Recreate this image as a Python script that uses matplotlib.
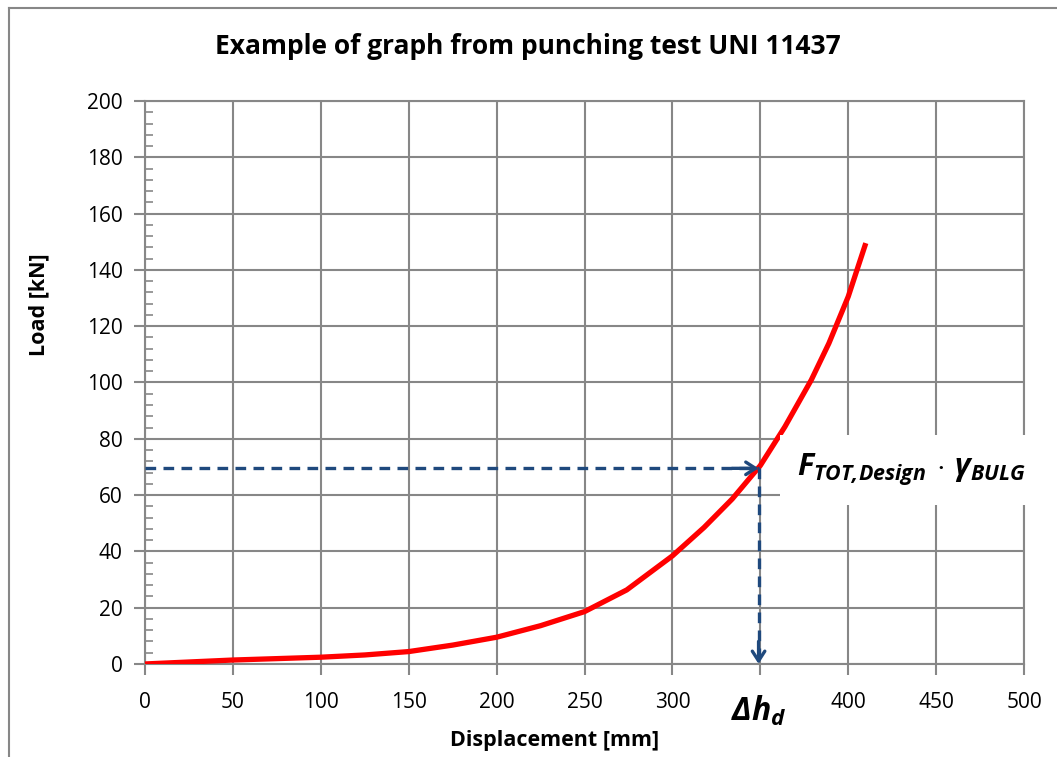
import matplotlib.pyplot as plt
from matplotlib.lines import Line2D
import numpy as np

plt.rcParams['font.family'] = ['Open Sans', 'DejaVu Sans']
plt.rcParams['mathtext.fontset'] = 'custom'
plt.rcParams['mathtext.it'] = 'Open Sans:italic:bold'
plt.rcParams['mathtext.rm'] = 'Open Sans:italic:bold'
plt.rcParams['mathtext.bf'] = 'Open Sans:italic:bold'

# data
disp = [0, 25, 50, 75, 100, 125, 150, 175, 200, 225, 250, 274, 300, 318, 334,
        350, 364, 379, 389, 400, 410]
load = [0, 0.7, 1.4, 1.9, 2.4, 3.2, 4.4, 6.7, 9.5, 13.6, 18.6, 26.3, 38.4, 48.5, 58.6,
        70.5, 84.3, 100.9, 113.9, 130.5, 149.5]
design_disp = 349
design_load = 69.5
x_ticks = [0, 50, 100, 150, 200, 250, 300, 350, 400, 450, 500]
x_tick_labels = ['0', '50', '100', '150', '200', '250', '300', '', '400', '450', '500']

grid_col = '#878787'
arrow_col = '#1F497D'

fig = plt.figure(figsize=(10.57, 7.57), dpi=100)
ax = fig.add_axes([0.1372, 0.1229, 0.8316, 0.7437])

# outer chart border (only left and top edges show)
fig.add_artist(Line2D([9/1057, 9/1057], [0, 1 - 8/757], color=grid_col, lw=1.5,
                      transform=fig.transFigure))
fig.add_artist(Line2D([9/1057, 1], [1 - 8/757, 1 - 8/757], color=grid_col, lw=1.5,
                      transform=fig.transFigure))

ax.plot(disp, load, color='#FF0000', lw=3.8, zorder=3, solid_capstyle='butt',
        solid_joinstyle='round')

# dashed guide lines with open arrowheads
ax.plot([0, design_disp], [design_load, design_load], color=arrow_col, lw=2.4,
        ls=(0, (3.2, 2.2)), zorder=4)
ax.plot([design_disp, design_disp], [design_load, 0], color=arrow_col, lw=2.4,
        ls=(0, (3.2, 2.2)), zorder=4)
ax.annotate('', xy=(design_disp, design_load), xytext=(design_disp - 15, design_load),
            arrowprops=dict(arrowstyle='->,head_length=0.7,head_width=0.45',
                            color=arrow_col, lw=2.4, shrinkA=0, shrinkB=0), zorder=5)
ax.annotate('', xy=(design_disp, 0), xytext=(design_disp, 8),
            arrowprops=dict(arrowstyle='->,head_length=0.7,head_width=0.45',
                            color=arrow_col, lw=2.4, shrinkA=0, shrinkB=0), zorder=5,
            annotation_clip=False)

# label box
ax.text(371, 69, r'$F_{TOT,\!Design}\,\cdot\,\gamma_{BULG}$',
        fontsize=22, ha='left', va='center', zorder=6,
        bbox=dict(facecolor='white', edgecolor='none', pad=12))
ax.text(design_disp, -17, r'$\Delta h_{d}$', fontsize=23,
        ha='center', va='center', clip_on=False)

ax.set_xlim(0, 500)
ax.set_ylim(0, 200)
ax.set_xticks(x_ticks)
ax.set_xticklabels(x_tick_labels)
ax.set_yticks(np.arange(0, 201, 20))
ax.set_yticks(np.arange(0, 201, 4), minor=True)
ax.grid(True, which='major', color=grid_col, lw=1.5)
ax.set_axisbelow(True)
for s in ax.spines.values():
    s.set_color(grid_col)
    s.set_linewidth(1.5)
ax.tick_params(which='major', direction='out', length=8, width=1.5, color=grid_col,
               labelsize=15, pad=8)
ax.tick_params(which='minor', axis='y', direction='in', length=6, width=1.2, color=grid_col)
ax.tick_params(axis='x', pad=12)

fig.text(0.499, 1 - 47/757, 'Example of graph from punching test UNI 11437',
         fontsize=19, fontweight='bold', ha='center', va='center')
ax.set_xlabel('Displacement [mm]', fontsize=15.5, fontweight='bold', va='center')
ax.xaxis.set_label_coords((555 - 145) / 879, -(741 - 664) / 563)
ax.set_ylabel('Load [kN]', fontsize=15.5, fontweight='bold', va='center', ha='center')
ax.yaxis.set_label_coords(-(145 - 39) / 879, (664 - 305) / 563)

fig.savefig('out.png', dpi=100)
